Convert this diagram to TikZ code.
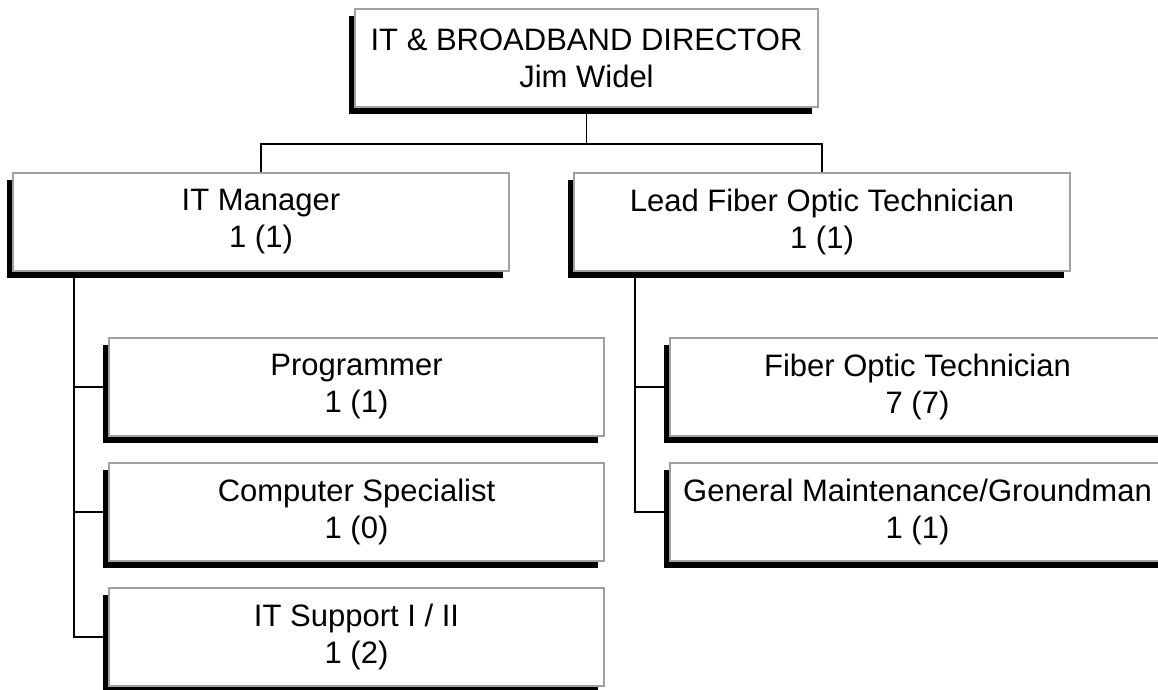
\documentclass[tikz,border=0pt]{standalone}
\usepackage{fontspec}
\setmainfont{Liberation Sans}
\usetikzlibrary{positioning,shadows}

\tikzset{
  post/.style={rectangle,draw=black!37,line width=2pt,fill=white,
    minimum width=496pt,minimum height=98pt,inner sep=0pt,align=center,
    font=\fontsize{31}{37}\selectfont,
    drop shadow={shadow xshift=-6pt,shadow yshift=-7pt,fill=black,opacity=1}},
  subpost/.style={post,minimum width=495pt},
  link/.style={draw=black,line width=1.6pt}
}

\begin{document}
\begin{tikzpicture}[x=1pt,y=1pt,on grid,node distance=125pt]
  \useasboundingbox (0,0) rectangle (1158,-689);
  \node[post,minimum width=463pt] (dir) at (586.5,-58) {IT \& BROADBAND DIRECTOR\\Jim Widel};
  \node[post] (itm) [below left=164pt and 325.5pt of dir] {IT Manager\\1 (1)};
  \node[post] (lead) [below right=164pt and 235.5pt of dir] {Lead Fiber Optic Technician\\1 (1)};
  \node[subpost] (prog) [below right=165pt and 95.5pt of itm] {Programmer\\1 (1)};
  \node[subpost] (comp) [below=of prog] {Computer Specialist\\1 (0)};
  \node[subpost] (sup) [below=of comp] {IT Support I / II\\1 (2)};
  \node[subpost] (fot) [below right=165pt and 95.5pt of lead] {Fiber Optic Technician\\7 (7)};
  \node[subpost] (gm) [below=of fot] {General Maintenance/Groundman\\1 (1)};

  \draw[link] (dir.south) -- ++(0,-36) coordinate (split);
  \draw[link] (split) -| (itm.north);
  \draw[link] (split) -| (lead.north);

  \coordinate (itmbus) at ([xshift=62pt]itm.south west);
  \draw[link] (itmbus) |- (prog.west);
  \draw[link] (itmbus) |- (comp.west);
  \draw[link] (itmbus) |- (sup.west);

  \coordinate (leadbus) at ([xshift=62pt]lead.south west);
  \draw[link] (leadbus) |- (fot.west);
  \draw[link] (leadbus) |- (gm.west);
\end{tikzpicture}
\end{document}
